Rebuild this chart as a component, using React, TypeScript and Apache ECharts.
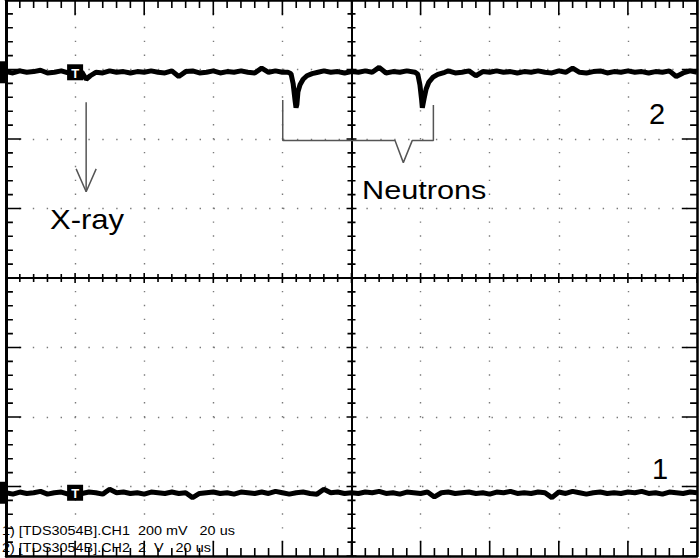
import React, { useEffect, useRef } from "react";
import * as echarts from "echarts";

// Oscilloscope capture: 10 horizontal divisions (20 us/div), 8 vertical divisions.
// Vertical unit used here: screen divisions from the centre line.
const T_MIN = -100;
const T_MAX = 100;
const T_STEP = 2;
const X_DIV = 20; // us per division
const Y_MIN = -4;
const Y_MAX = 4;

// CH2 (2 V/div) baseline samples, one every 2 us from -100 us to 100 us
const ch2Base = [
  2.97, 2.95, 2.98, 2.96, 2.97, 2.99, 2.95, 2.96, 2.98, 2.95,
  2.97, 2.96, 3.03, 2.96, 2.95, 2.98, 2.96, 2.97, 2.95, 2.97,
  2.96, 2.98, 2.96, 2.95, 2.98, 2.9, 2.97, 2.98, 2.95, 2.96,
  2.98, 2.95, 2.97, 2.96, 2.98, 2.96, 2.95, 3.02, 2.96, 2.98,
  2.96, 2.95, 2.97, 2.98, 2.96, 2.95, 2.98, 2.96, 2.97, 2.95,
  2.97, 2.96, 2.98, 2.96, 3.03, 2.95, 2.97, 2.96, 2.98, 2.96,
  2.95, 2.98, 2.96, 2.97, 2.98, 2.95, 2.96, 2.98, 2.91, 2.97,
  2.96, 2.98, 2.96, 2.97, 2.95, 2.97, 2.96, 2.98, 2.96, 2.95,
  2.98, 2.96, 3.02, 2.96, 2.95, 2.97, 2.98, 2.95, 2.97, 2.96,
  2.98, 2.96, 2.97, 2.95, 2.97, 2.96, 2.98, 2.9, 2.95, 2.98,
  2.96,
];

// CH1 (200 mV/div) baseline samples, one every 2 us
const ch1Base = [
  -3.09, -3.11, -3.08, -3.1, -3.09, -3.07, -3.11, -3.09, -3.08, -3.11,
  -3.09, -3.1, -3.08, -3.09, -3.11, -3.04, -3.09, -3.08, -3.1, -3.09,
  -3.11, -3.08, -3.09, -3.1, -3.08, -3.1, -3.09, -3.16, -3.1, -3.09,
  -3.08, -3.1, -3.09, -3.11, -3.08, -3.09, -3.1, -3.08, -3.1, -3.07,
  -3.09, -3.11, -3.09, -3.08, -3.1, -3.11, -3.04, -3.09, -3.08, -3.1,
  -3.09, -3.1, -3.08, -3.09, -3.07, -3.1, -3.09, -3.11, -3.08, -3.09,
  -3.1, -3.08, -3.15, -3.09, -3.08, -3.1, -3.09, -3.08, -3.1, -3.09,
  -3.11, -3.08, -3.09, -3.07, -3.1, -3.09, -3.1, -3.08, -3.09, -3.16,
  -3.08, -3.1, -3.07, -3.09, -3.11, -3.09, -3.08, -3.1, -3.09, -3.1,
  -3.08, -3.09, -3.07, -3.1, -3.09, -3.11, -3.08, -3.09, -3.1, -3.08,
  -3.09,
];

// Finer samples where CH2 shows structure: X-ray blip and the two neutron pulses
const xrayTimes = [-76.8, -75.6];
const xrayValues = [2.86, 2.91];
const neutron1Times = [-18.4, -17.5, -16.9, -16.35, -16.06, -15.8, -15.5, -14.9, -14.0, -12.9, -11.4, -9.7];
const neutron1Values = [2.96, 2.94, 2.8, 2.56, 2.45, 2.5, 2.68, 2.78, 2.86, 2.91, 2.94, 2.96];
const neutron2Times = [18.4, 19.2, 19.8, 20.3, 20.5, 21.0, 21.6, 22.4, 23.6, 25.0, 27.0];
const neutron2Values = [2.96, 2.93, 2.78, 2.56, 2.45, 2.58, 2.72, 2.82, 2.89, 2.93, 2.96];
const detailWindows = [
  [-77.5, -74.5],
  [-19, -9.5],
  [17.5, 27.5],
];

const triggerTime = -80;
const ch2Ground = 2.96;
const ch1Ground = -3.09;

// Annotation strokes (arrow to the X-ray blip, bracket under the neutron pulses)
const arrowShaftT = [-76.8, -76.8];
const arrowShaftV = [2.53, 1.24];
const arrowHeadT = [-79.7, -76.8, -73.9];
const arrowHeadV = [1.57, 1.24, 1.57];
const bracketT = [-19.9, -19.9, 12.6, 15.0, 17.6, 23.7, 23.7];
const bracketV = [2.56, 1.98, 1.98, 1.66, 1.98, 1.98, 2.49];

// Graticule tick lengths, as fractions of one division
const EDGE_MAJOR = 0.22;
const EDGE_MINOR_X = 0.115;
const EDGE_MINOR_Y = 0.1;
const CENTRE_MAJOR = 0.072;
const CENTRE_MINOR = 0.058;

const labelLine1 = "1) [TDS3054B].CH1  200 mV   20 us";
const labelLine2 = "2) [TDS3054B].CH2  2  V   20 us";

function sampleTime(i: number) {
  return T_MIN + i * T_STEP;
}

function buildTrace(base: number[], extraT: number[][], extraV: number[][]) {
  const pts: number[][] = [];
  base.forEach((v, i) => {
    const t = sampleTime(i);
    const inside = extraT.length > 0 && detailWindows.some(([a, b]) => t > a && t < b);
    if (!inside) pts.push([t, v]);
  });
  extraT.forEach((ts, k) => ts.forEach((t, j) => pts.push([t, extraV[k][j]])));
  pts.sort((a, b) => a[0] - b[0]);
  return pts;
}

function zip(a: number[], b: number[]) {
  return a.map((x, i) => [x, b[i]]);
}

// graticule sub-division marks: 5 per division along both directions
function subdivisions(min: number, max: number, div: number) {
  const out: number[] = [];
  const n = Math.round(((max - min) / div) * 5);
  for (let i = 0; i <= n; i++) out.push(+(min + (i * div) / 5).toFixed(4));
  return out;
}

const isWhole = (v: number) => Math.abs(v - Math.round(v)) < 1e-6;

// Tick segments expressed in data units, separated by gaps ("-")
function tickSegments() {
  const out: any[] = [];
  const seg = (a: number[], b: number[]) => {
    out.push(a, b, ["-", "-"]);
  };
  subdivisions(T_MIN, T_MAX, X_DIV).forEach((t) => {
    const major = isWhole(t / X_DIV);
    const edge = major ? EDGE_MAJOR : EDGE_MINOR_X;
    const c = major ? CENTRE_MAJOR : CENTRE_MINOR;
    seg([t, Y_MIN], [t, Y_MIN + edge]);
    seg([t, Y_MAX], [t, Y_MAX - edge]);
    seg([t, -c], [t, c]);
  });
  subdivisions(Y_MIN, Y_MAX, 1).forEach((v) => {
    const major = isWhole(v);
    const edge = (major ? EDGE_MAJOR : EDGE_MINOR_Y) * X_DIV;
    const c = (major ? CENTRE_MAJOR : CENTRE_MINOR) * X_DIV;
    seg([T_MIN, v], [T_MIN + edge, v]);
    seg([T_MAX, v], [T_MAX - edge, v]);
    seg([-c, v], [c, v]);
  });
  return out;
}

const FONT = "Liberation Sans, Arial, sans-serif";

const K_GROUND = 0;
const K_TRIGGER = 1;

export default function App() {
  const ref = useRef<HTMLDivElement>(null);

  useEffect(() => {
    if (!ref.current) return;
    const chart = echarts.init(ref.current, undefined, { renderer: "svg" });

    const black = "#000";
    const xBase = () => ({
      type: "value",
      min: T_MIN,
      max: T_MAX,
      interval: X_DIV,
      axisLabel: { show: false },
      axisTick: { show: false },
      minorTick: { show: false },
    });
    const yBase = () => ({
      type: "value",
      min: Y_MIN,
      max: Y_MAX,
      interval: 1,
      axisLabel: { show: false },
      axisTick: { show: false },
      minorTick: { show: false },
    });
    const dotted = () => ({
      show: true,
      lineStyle: { color: "#7a7a7a", width: 1.4, type: [1.4, 12.5], dashOffset: 0.7 },
    });
    const line = (onZero: boolean, width: number) => ({
      axisLine: onZero
        ? { show: true, onZero: true, onZeroAxisIndex: 0, lineStyle: { color: black, width } }
        : { show: true, onZero: false, lineStyle: { color: black, width } },
    });

    const ch2 = buildTrace(
      ch2Base,
      [xrayTimes, neutron1Times, neutron2Times],
      [xrayValues, neutron1Values, neutron2Values]
    );
    const ch1 = buildTrace(ch1Base, [], []);

    const flags = {
      type: "custom",
      coordinateSystem: "cartesian2d",
      silent: true,
      clip: false,
      z: 8,
      data: [
        [triggerTime, ch2Ground, K_TRIGGER],
        [triggerTime, ch1Ground, K_TRIGGER],
        [T_MIN, ch2Ground, K_GROUND],
        [T_MIN, ch1Ground, K_GROUND],
      ],
      renderItem: (_p: any, api: any) => {
        const p = api.coord([api.value(0), api.value(1)]);
        if (api.value(2) === K_TRIGGER) {
          return {
            type: "group",
            children: [
              { type: "rect", shape: { x: p[0] - 8, y: p[1] - 8, width: 16, height: 16 }, style: { fill: black } },
              {
                type: "text",
                x: p[0],
                y: p[1] + 1,
                style: {
                  text: "T",
                  fill: "#fff",
                  font: `bold 13px ${FONT}`,
                  align: "center",
                  verticalAlign: "middle",
                  textAlign: "center",
                  textVerticalAlign: "middle",
                },
              },
            ],
          };
        }
        return {
          type: "rect",
          shape: { x: p[0] - 7, y: p[1] - 11, width: 7, height: 22 },
          style: { fill: black },
        };
      },
    };

    const annotation = (t: number[], v: number[]) => ({
      type: "line",
      data: zip(t, v),
      symbol: "none",
      silent: true,
      lineStyle: { color: "#555", width: 1.5 },
      z: 4,
    });

    const text = (s: string, x: number, y: number, size: number, sx: number) => ({
      type: "text",
      x,
      y,
      scaleX: sx,
      z: 10,
      style: {
        text: s,
        fill: black,
        font: `${size}px ${FONT}`,
        textAlign: "left",
        textVerticalAlign: "middle",
        verticalAlign: "middle",
      },
    });

    chart.setOption({
      animation: false,
      backgroundColor: "#fff",
      grid: { left: 6, right: 3, top: 0, bottom: 2 },
      xAxis: [
        { ...xBase(), position: "bottom", ...line(false, 2.5), splitLine: dotted() },
        { ...xBase(), position: "top", ...line(false, 2.5), splitLine: { show: false } },
        { ...xBase(), position: "bottom", ...line(true, 2), splitLine: { show: false } },
      ],
      yAxis: [
        { ...yBase(), position: "left", ...line(false, 3), splitLine: dotted() },
        { ...yBase(), position: "right", ...line(false, 2.5), splitLine: { show: false } },
        { ...yBase(), position: "left", ...line(true, 2), splitLine: { show: false } },
      ],
      series: [
        {
          name: "graticule ticks",
          type: "line",
          data: tickSegments(),
          symbol: "none",
          showSymbol: false,
          connectNulls: false,
          silent: true,
          clip: false,
          lineStyle: { color: black, width: 1.6, cap: "butt" },
          z: 6,
        },
        {
          name: "CH2",
          type: "line",
          data: ch2,
          symbol: "none",
          lineStyle: { color: black, width: 5 },
          z: 5,
        },
        {
          name: "CH1",
          type: "line",
          data: ch1,
          symbol: "none",
          lineStyle: { color: black, width: 5 },
          z: 5,
        },
        flags,
        annotation(arrowShaftT, arrowShaftV),
        annotation(arrowHeadT, arrowHeadV),
        annotation(bracketT, bracketV),
      ],
      graphic: [
        text("X-ray", 50, 220, 27, 1.15),
        text("Neutrons", 362, 190, 26, 1.18),
        text("2", 649, 114, 29, 1),
        text("1", 652, 469, 29, 1),
        text(labelLine1, 2, 531, 12, 1.2),
        text(labelLine2, 2, 548, 12, 1.2),
      ],
    });

    return () => chart.dispose();
  }, []);

  return (
    <div
      ref={ref}
      style={{ position: "absolute", left: 0, top: 0, width: 700, height: 558 }}
    />
  );
}
